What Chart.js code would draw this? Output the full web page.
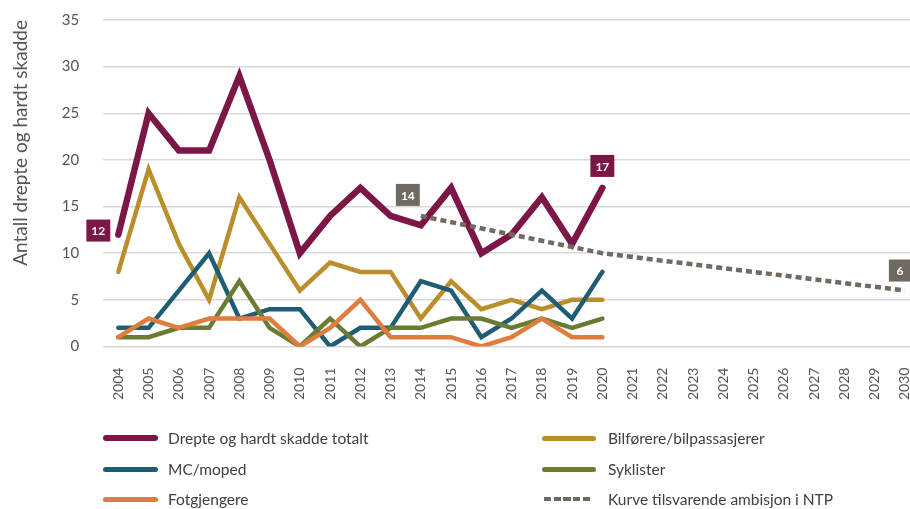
<!DOCTYPE html>
<html>
<head>
<meta charset="utf-8">
<script src="https://cdn.jsdelivr.net/npm/chart.js@4/dist/chart.umd.min.js"></script>
<style>
  html, body { margin: 0; padding: 0; background: #fff; overflow: hidden; }
  #wrap { position: relative; width: 910px; height: 509px; overflow: hidden; }
  #box { position: absolute; left: 0; top: 0; width: 925px; height: 404px; }
  #legend { position: absolute; left: 0; top: 0; width: 910px; height: 509px; pointer-events: none;
            font-family: Lato, "Open Sans", sans-serif; font-size: 15.5px; color: #404040; }
  .item { position: absolute; display: flex; align-items: center; height: 20px; line-height: 20px; }
  .swatch { border-radius: 4px; }
</style>
</head>
<body>
<div id="wrap">
  <div id="box"><canvas id="chart"></canvas></div>
  <div id="legend"></div>
</div>
<script>
var years = ['2004','2005','2006','2007','2008','2009','2010','2011','2012','2013','2014','2015','2016','2017',
             '2018','2019','2020','2021','2022','2023','2024','2025','2026','2027','2028','2029','2030'];

var totalt      = [12, 25, 21, 21, 29, 20, 10, 14, 17, 14, 13, 17, 10, 12, 16, 11, 17];
var bilforere   = [8, 19, 11, 5, 16, 11, 6, 9, 8, 8, 3, 7, 4, 5, 4, 5, 5];
var mcMoped     = [2, 2, 6, 10, 3, 4, 4, 0, 2, 2, 7, 6, 1, 3, 6, 3, 8];
var syklister   = [1, 1, 2, 2, 7, 2, 0, 3, 0, 2, 2, 3, 3, 2, 3, 2, 3];
var fotgjengere = [1, 3, 2, 3, 3, 3, 0, 2, 5, 1, 1, 1, 0, 1, 3, 1, 1];
// NTP ambition curve, known points only (2014, 2020, 2030)
var ntp = [null, null, null, null, null, null, null, null, null, null, 14, null, null, null, null, null, 10,
           null, null, null, null, null, null, null, null, null, 6];

var seriesNames = ['Drepte og hardt skadde totalt', 'Bilførere/bilpassasjerer', 'MC/moped',
                   'Syklister', 'Fotgjengere', 'Kurve tilsvarende ambisjon i NTP'];

var colors = {
  totalt: 'rgb(124,22,70)',
  bil: 'rgb(186,142,42)',
  mc: 'rgb(31,92,117)',
  sykl: 'rgb(106,124,52)',
  fot: 'rgb(224,124,62)',
  ntp: 'rgb(112,106,98)'
};

// value labels: dataset index, point index, offset from point
var valueLabels = [
  { ds: 0, i: 0, dx: -20, dy: -4 },
  { ds: 5, i: 10, dx: -13, dy: -21 },
  { ds: 0, i: 16, dx: 0, dy: -22 },
  { ds: 5, i: 26, dx: -5, dy: -20 }
];

var FONT = 'Lato, "Open Sans", sans-serif';

function lineDs(label, data, color, width, order) {
  return {
    label: label, data: data, borderColor: color, backgroundColor: color,
    borderWidth: width, pointRadius: 0, tension: 0, fill: false,
    borderCapStyle: 'round', borderJoinStyle: 'miter', order: order
  };
}

var datasets = [
  lineDs(seriesNames[0], totalt, colors.totalt, 6.5, 1),
  lineDs(seriesNames[1], bilforere, colors.bil, 4.5, 6),
  lineDs(seriesNames[2], mcMoped, colors.mc, 4.5, 5),
  lineDs(seriesNames[3], syklister, colors.sykl, 4.5, 4),
  lineDs(seriesNames[4], fotgjengere, colors.fot, 4.5, 3),
  Object.assign(lineDs(seriesNames[5], ntp, colors.ntp, 4.5, 0),
    { borderDash: [6, 4], borderCapStyle: 'butt', spanGaps: true })
];

var labelPlugin = {
  id: 'valueBoxes',
  afterDatasetsDraw: function(chart) {
    var ctx = chart.ctx;
    var xs = chart.scales.x, ys = chart.scales.y;
    ctx.save();
    ctx.font = 'bold 12px ' + FONT;
    ctx.textAlign = 'center';
    ctx.textBaseline = 'middle';
    valueLabels.forEach(function(l) {
      var v = chart.data.datasets[l.ds].data[l.i];
      var x = xs.getPixelForValue(l.i) + l.dx;
      var y = ys.getPixelForValue(v) + l.dy;
      var txt = String(v);
      var w = Math.max(22, ctx.measureText(txt).width + 10);
      ctx.fillStyle = chart.data.datasets[l.ds].borderColor;
      ctx.fillRect(x - w / 2, y - 11, w, 22);
      ctx.fillStyle = '#fff';
      ctx.fillText(txt, x, y + 1);
    });
    ctx.restore();
  }
};

new Chart(document.getElementById('chart'), {
  type: 'line',
  data: { labels: years, datasets: datasets },
  options: {
    responsive: true,
    maintainAspectRatio: false,
    animation: false,
    layout: { padding: { top: 20, left: 9, right: 5, bottom: 2 } },
    plugins: { legend: { display: false }, tooltip: { enabled: false } },
    scales: {
      x: {
        offset: true,
        grid: { display: true, drawOnChartArea: false, color: 'transparent', tickColor: 'transparent',
                drawTicks: true, tickLength: 19 },
        border: { display: false },
        ticks: {
          color: '#555', font: { family: FONT, size: 14 },
          minRotation: 90, maxRotation: 90, autoSkip: false, padding: 2
        }
      },
      y: {
        min: 0, max: 35,
        grid: { color: '#d9d9d9', lineWidth: 1.5, drawTicks: true, tickColor: 'transparent', tickLength: 22 },
        border: { display: false },
        ticks: {
          stepSize: 5, color: '#555', padding: 2,
          font: { family: FONT, size: 15 }
        },
        title: {
          display: true, text: 'Antall drepte og hardt skadde', color: '#555', align: 'end',
          font: { family: FONT, size: 19 }, padding: { top: 0, bottom: 28 }
        }
      }
    }
  },
  plugins: [labelPlugin]
});

// legend in two columns: [left, centre y]
var legend = document.getElementById('legend');
var legendPos = [[103, 438], [542, 438], [103, 469], [542, 469], [103, 499], [544, 499]];
datasets.forEach(function(ds, n) {
  var item = document.createElement('div');
  item.className = 'item';
  item.style.left = legendPos[n][0] + 'px';
  item.style.top = (legendPos[n][1] - 10) + 'px';
  var sw = document.createElement('div');
  sw.className = 'swatch';
  if (ds.borderDash) {
    sw.style.height = '4.5px';
    sw.style.width = '46px';
    sw.style.borderRadius = '0';
    sw.style.marginRight = '18px';
    sw.style.background = 'repeating-linear-gradient(90deg,' + ds.borderColor + ' 0 7px, transparent 7px 9.75px)';
  } else {
    sw.style.height = (n === 0 ? 6 : 5) + 'px';
    sw.style.width = (n % 2 === 0 ? 55 : 54) + 'px';
    sw.style.marginRight = (n % 2 === 0 ? 10 : 12) + 'px';
    sw.style.background = ds.borderColor;
  }
  item.appendChild(sw);
  var t = document.createElement('span');
  t.textContent = ds.label;
  item.appendChild(t);
  legend.appendChild(item);
});
</script>
</body>
</html>
